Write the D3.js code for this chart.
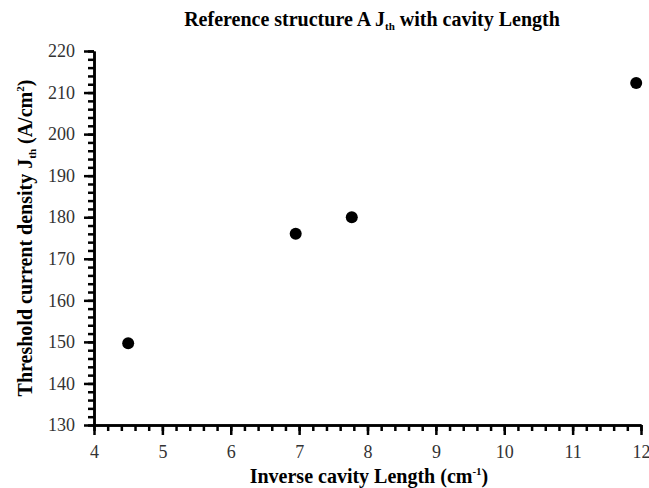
<!DOCTYPE html>
<html lang="en">
<head>
  <meta charset="UTF-8">
  <title>Jth vs cavity length</title>
  <script src="https://d3js.org/d3.v7.min.js"></script>
  <style>
    html, body { margin: 0; padding: 0; background: #fff; }
    svg { display: block; font-family: "Liberation Serif", "DejaVu Serif", serif; }
    .axis path, .axis line { stroke: #000; stroke-width: 2.5px; }
    svg .axis text { font-family: "Liberation Serif", serif !important; font-size: 18px !important; fill: #333; }
  </style>
</head>
<body>
  <svg width="649" height="488"></svg>
  <script>
    // measured points
    const inverseLength = [4.5, 6.95, 7.77, 11.93];
    const jth = [149.7, 176, 180, 212.3];
    const xTicks = [4, 5, 6, 7, 8, 9, 10, 11, 12];
    const yTicks = [130, 140, 150, 160, 170, 180, 190, 200, 210, 220];

    const svg = d3.select("svg");
    const m = { left: 94, right: 641, top: 51, bottom: 425 };

    const x = d3.scaleLinear().domain([4, 12]).range([m.left, m.right]);
    const y = d3.scaleLinear().domain([130, 220]).range([m.bottom, m.top]);

    // minor ticks
    const xMinor = d3.range(4, 12.001, 0.2);
    const yMinor = d3.range(130, 220.001, 2);

    svg.append("g").attr("class", "axis")
      .attr("transform", `translate(0,${m.bottom})`)
      .call(d3.axisBottom(x).tickValues(xMinor).tickSize(6).tickFormat("").tickSizeOuter(0));
    svg.append("g").attr("class", "axis")
      .attr("transform", `translate(0,${m.bottom})`)
      .call(d3.axisBottom(x).tickValues(xTicks).tickSize(10).tickPadding(10).tickFormat(d3.format("d")).tickSizeOuter(0));

    svg.append("g").attr("class", "axis")
      .attr("transform", `translate(${m.left},0)`)
      .call(d3.axisLeft(y).tickValues(yMinor).tickSize(6).tickFormat("").tickSizeOuter(0));
    svg.append("g").attr("class", "axis")
      .attr("transform", `translate(${m.left},0)`)
      .call(d3.axisLeft(y).tickValues(yTicks).tickSize(10).tickPadding(9).tickFormat(d3.format("d")).tickSizeOuter(0));

    svg.selectAll(".axis")
      .attr("font-family", "Liberation Serif")
      .attr("font-size", 18);

    svg.append("g").selectAll("circle")
      .data(inverseLength.map((v, i) => [v, jth[i]]))
      .join("circle")
        .attr("cx", d => x(d[0]))
        .attr("cy", d => y(d[1]))
        .attr("r", 6)
        .attr("fill", "#000");

    // title
    const title = svg.append("text")
      .attr("x", 372).attr("y", 26)
      .attr("text-anchor", "middle")
      .attr("font-size", 20).attr("font-weight", "bold");
    title.append("tspan").text("Reference structure A J");
    title.append("tspan").attr("font-size", 11).attr("dy", 4).text("th");
    title.append("tspan").attr("dy", -4).text(" with cavity Length");

    // x label
    const xl = svg.append("text")
      .attr("x", 369).attr("y", 483)
      .attr("text-anchor", "middle")
      .attr("font-size", 20).attr("font-weight", "bold");
    xl.append("tspan").text("Inverse cavity Length (cm");
    xl.append("tspan").attr("font-size", 11).attr("dy", -8).text("-1");
    xl.append("tspan").attr("dy", 8).text(")");

    // y label
    const yl = svg.append("text")
      .attr("transform", `translate(32,${(m.top + m.bottom) / 2}) rotate(-90)`)
      .attr("text-anchor", "middle")
      .attr("font-size", 20).attr("font-weight", "bold");
    yl.append("tspan").text("Threshold current density J");
    yl.append("tspan").attr("font-size", 11).attr("dy", 4).text("th");
    yl.append("tspan").attr("dy", -4).text(" (A/cm");
    yl.append("tspan").attr("font-size", 11).attr("dy", -8).text("2");
    yl.append("tspan").attr("dy", 8).text(")");
  </script>
</body>
</html>
